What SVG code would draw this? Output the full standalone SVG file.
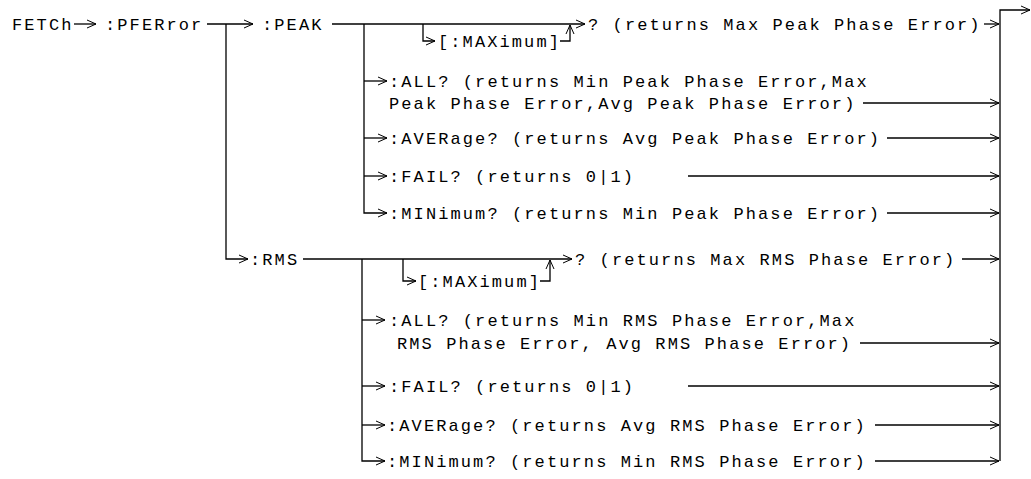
<svg xmlns="http://www.w3.org/2000/svg" width="1031" height="479" viewBox="0 0 1031 479">
<defs>
<marker id="ah" viewBox="0 0 10 10" refX="10" refY="5" markerWidth="10" markerHeight="10" markerUnits="userSpaceOnUse" orient="auto">
<path d="M1,1 L10,5 L1,9" fill="none" stroke="#000" stroke-width="1"/>
</marker>
<style>
text{font-family:"Liberation Mono","DejaVu Sans Mono",monospace;font-size:17px;letter-spacing:2.1px;fill:#000}
.c{fill:none;stroke:#000;stroke-width:1.3}
.a{marker-end:url(#ah)}
</style>
</defs>
<rect width="1031" height="479" fill="#fff"/>
<g id="connectors">
<path class="c a" d="M74,24 H96"/>
<path class="c a" d="M207,24 H253"/>
<path class="c a" d="M226,24 V259 H248"/>
<path class="c a" d="M332,24 H585"/>
<path class="c a" d="M423,24 V41 H435"/>
<path class="c a" d="M560,41 H570 V25"/>
<path class="c a" d="M984,24 H999"/>
<path class="c a" d="M364,24 V213 H387"/>
<path class="c a" d="M364,81 H387"/>
<path class="c a" d="M364,138 H387"/>
<path class="c a" d="M364,176 H387"/>
<path class="c a" d="M863,103 H999"/>
<path class="c a" d="M887,138 H999"/>
<path class="c a" d="M688,176 H999"/>
<path class="c a" d="M887,213 H999"/>
<path class="c a" d="M303,259 H572"/>
<path class="c a" d="M403,259 V281 H416"/>
<path class="c a" d="M540,281 H550 V260"/>
<path class="c a" d="M962,259 H999"/>
<path class="c a" d="M362,259 V461 H385"/>
<path class="c a" d="M362,320 H385"/>
<path class="c a" d="M362,386 H385"/>
<path class="c a" d="M362,425 H385"/>
<path class="c a" d="M860,343 H999"/>
<path class="c a" d="M688,386 H999"/>
<path class="c a" d="M875,425 H999"/>
<path class="c a" d="M875,461 H999"/>
<path class="c a" d="M1000,461 V10 H1030"/>
</g>
<g id="fetch"><text x="12" y="30">FETCh</text></g>
<g id="pferror"><text x="105" y="30">:PFERror</text></g>
<g id="peak"><text x="262" y="30">:PEAK</text></g>
<g id="peak-max"><text x="438" y="47">[:MAXimum]</text></g>
<g id="peak-query"><text x="588" y="30">? (returns Max Peak Phase Error)</text></g>
<g id="peak-all"><text x="389" y="87">:ALL? (returns Min Peak Phase Error,Max</text><text x="389" y="109">Peak Phase Error,Avg Peak Phase Error)</text></g>
<g id="peak-average"><text x="389" y="144">:AVERage? (returns Avg Peak Phase Error)</text></g>
<g id="peak-fail"><text x="389" y="182">:FAIL? (returns 0|1)</text></g>
<g id="peak-minimum"><text x="389" y="219">:MINimum? (returns Min Peak Phase Error)</text></g>
<g id="rms"><text x="250" y="265">:RMS</text></g>
<g id="rms-max"><text x="418" y="287">[:MAXimum]</text></g>
<g id="rms-query"><text x="575" y="265">? (returns Max RMS Phase Error)</text></g>
<g id="rms-all"><text x="389" y="326"> :ALL? (returns Min RMS Phase Error,Max</text><text x="397" y="349">RMS Phase Error, Avg RMS Phase Error)</text></g>
<g id="rms-fail"><text x="389" y="392">:FAIL? (returns 0|1)</text></g>
<g id="rms-average"><text x="387" y="431">:AVERage? (returns Avg RMS Phase Error)</text></g>
<g id="rms-minimum"><text x="387" y="467">:MINimum? (returns Min RMS Phase Error)</text></g>
</svg>
